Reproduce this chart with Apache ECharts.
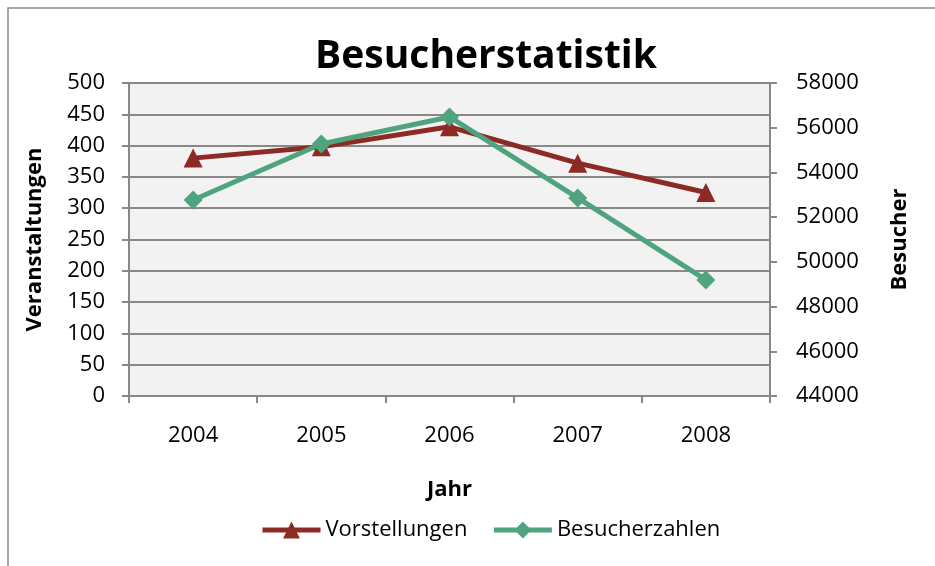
<!DOCTYPE html>
<html>
<head>
<meta charset="utf-8">
<script src="https://cdn.jsdelivr.net/npm/echarts@6/dist/echarts.min.js"></script>
<style>
  html, body { margin: 0; padding: 0; background: #fff; }
  #chart { width: 935px; height: 566px; }
</style>
</head>
<body>
<div id="chart"></div>
<script>
// Chart data
const years = ['2004', '2005', '2006', '2007', '2008'];
const vorstellungen = [380, 398, 430, 372, 325];
const besucherzahlen = [52770, 55270, 56480, 52860, 49190];

const fontFamily = '"Open Sans", "Noto Sans", sans-serif';
const red = '#8c2a23';
const green = '#4fa47f';

const chart = echarts.init(document.getElementById('chart'));

chart.setOption({
    animation: false,
    title: {
        text: 'Besucherstatistik',
        left: 481,
        top: 32,
        textAlign: 'center',
        textStyle: { fontFamily, fontSize: 39, fontWeight: 'bold', color: '#000' }
    },
    graphic: [{
        type: 'rect',
        shape: { x: 8, y: 8, width: 940, height: 570 },
        style: { fill: 'none', stroke: '#8a8a8a', lineWidth: 1.5 },
        z: -10
    }],
    legend: {
        bottom: 20,
        left: 255,
        itemWidth: 58,
        itemHeight: 21,
        itemGap: 24,
        lineStyle: { width: 5 },
        textStyle: { fontFamily, fontSize: 22, color: '#000' },
        data: ['Vorstellungen', 'Besucherzahlen']
    },
    grid: {
        left: 129, right: 165, top: 83, bottom: 170,
        show: true, backgroundColor: '#f2f2f2', borderWidth: 0
    },
    xAxis: {
        type: 'category',
        data: years,
        boundaryGap: true,
        name: 'Jahr',
        nameLocation: 'middle',
        nameGap: 83,
        nameTextStyle: { fontFamily, fontSize: 22, fontWeight: 'bold', color: '#000' },
        axisLine: { lineStyle: { color: '#888', width: 2 } },
        axisTick: { show: true, length: 7, lineStyle: { color: '#888', width: 2 } },
        axisLabel: { fontFamily, fontSize: 22, color: '#000', margin: 29 }
    },
    yAxis: [{
        type: 'value',
        min: 0, max: 500, interval: 50,
        name: 'Veranstaltungen',
        nameLocation: 'middle',
        nameGap: 83,
        nameRotate: 90,
        nameTextStyle: { fontFamily, fontSize: 22, fontWeight: 'bold', color: '#000' },
        axisLine: { show: true, lineStyle: { color: '#888', width: 2 } },
        axisTick: { show: true, length: 7, lineStyle: { color: '#888', width: 2 } },
        splitLine: { show: true, lineStyle: { color: '#888', width: 2 } },
        axisLabel: { fontFamily, fontSize: 22, color: '#000', margin: 24 }
    }, {
        type: 'value',
        min: 44000, max: 58000, interval: 2000,
        position: 'right',
        name: 'Besucher',
        nameLocation: 'middle',
        nameGap: 119,
        nameRotate: 90,
        nameTextStyle: { fontFamily, fontSize: 22, fontWeight: 'bold', color: '#000' },
        axisLine: { show: true, lineStyle: { color: '#888', width: 2 } },
        axisTick: { show: true, length: 7, lineStyle: { color: '#888', width: 2 } },
        splitLine: { show: false },
        axisLabel: { fontFamily, fontSize: 22, color: '#000', margin: 26, formatter: v => String(v) }
    }],
    series: [{
        name: 'Vorstellungen',
        type: 'line',
        yAxisIndex: 0,
        data: vorstellungen,
        symbol: 'triangle',
        symbolSize: 19,
        lineStyle: { color: red, width: 5 },
        itemStyle: { color: red }
    }, {
        name: 'Besucherzahlen',
        type: 'line',
        yAxisIndex: 1,
        data: besucherzahlen,
        symbol: 'diamond',
        symbolSize: 19,
        lineStyle: { color: green, width: 5 },
        itemStyle: { color: green }
    }]
});
</script>
</body>
</html>
